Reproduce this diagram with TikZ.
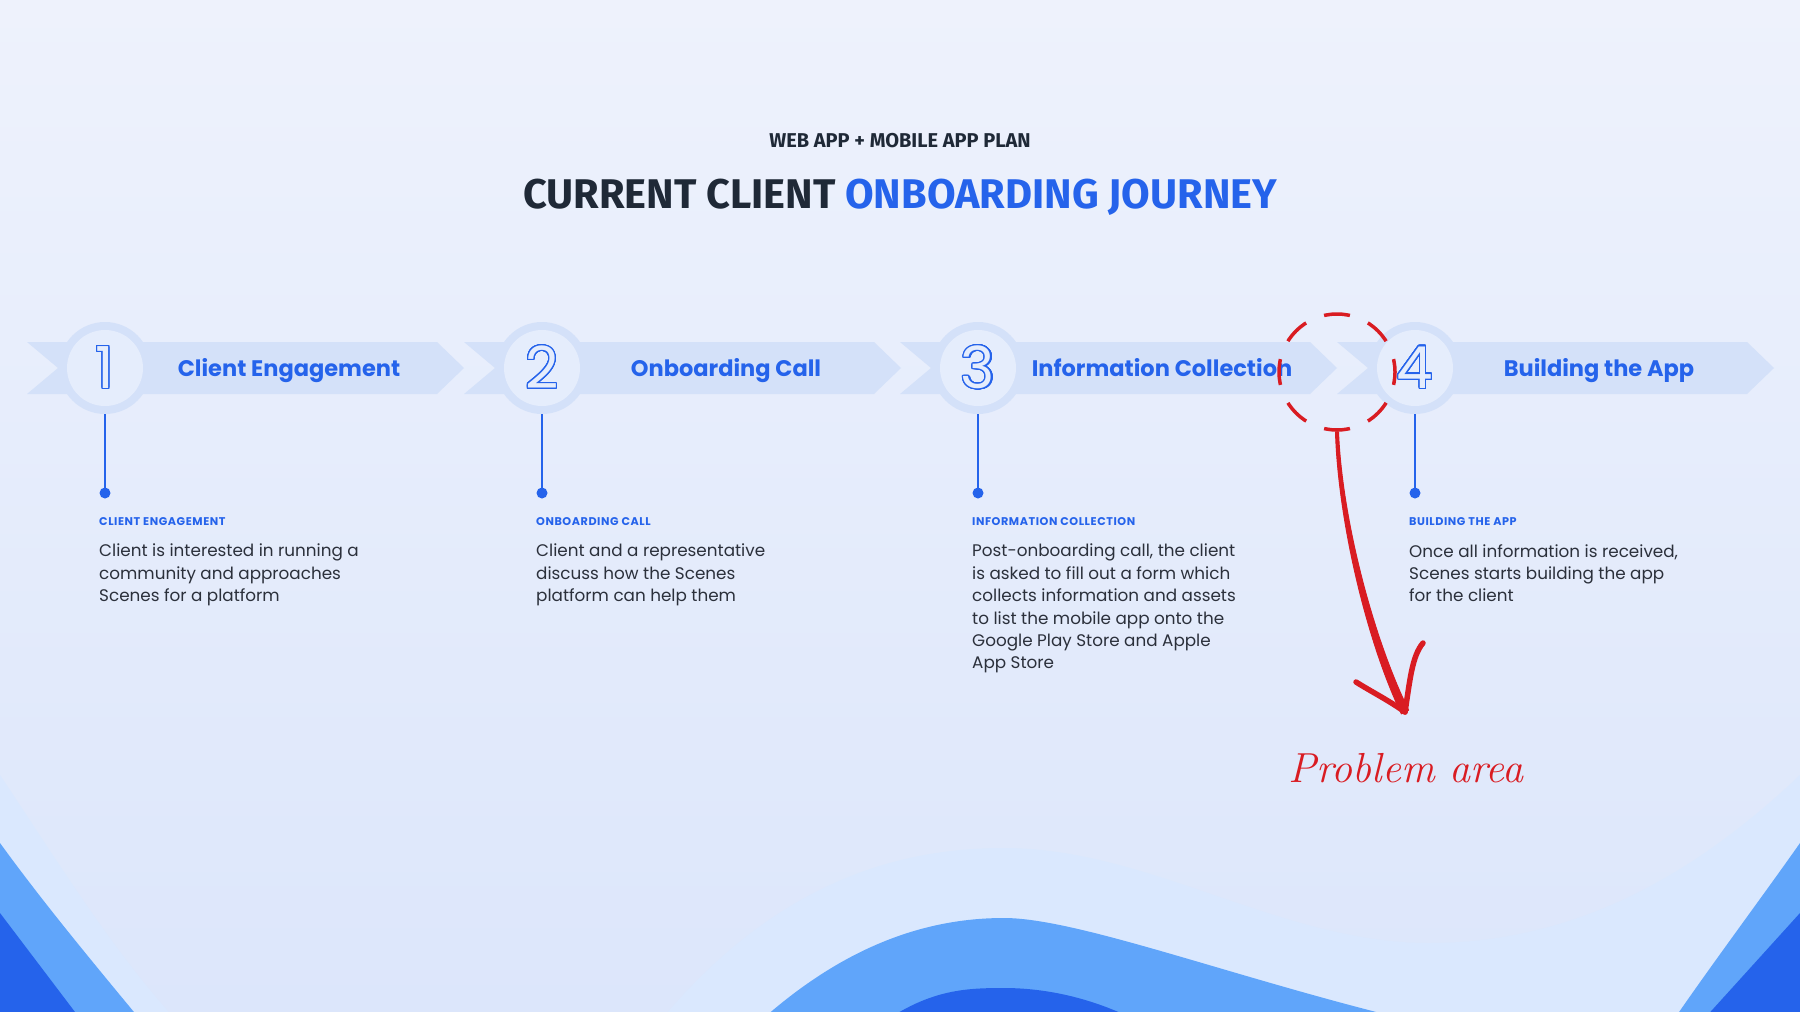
\documentclass[tikz,border=0pt]{standalone}
\usepackage{fontspec}
\setmainfont{Poppins}
\newfontfamily\headfont{Fira Sans}
\newfontfamily\handfont{Latin Modern Roman}
\usepackage{contour}
\usetikzlibrary{arrows.meta,positioning,calc}

\definecolor{bgtop}{HTML}{EEF2FC}
\definecolor{bgbot}{HTML}{DCE6FB}
\definecolor{bandfill}{HTML}{D4E1F9}
\definecolor{ringfill}{HTML}{E5EDFC}
\definecolor{accent}{HTML}{2563EB}
\definecolor{inkdark}{HTML}{1F2937}
\definecolor{bodyink}{HTML}{2B303B}
\definecolor{waveA}{HTML}{DAE8FE}
\definecolor{waveB}{HTML}{60A5FA}
\definecolor{waveC}{HTML}{2563EB}
\definecolor{markred}{HTML}{D91C22}

\contourlength{1.2pt}
\contournumber{32}

\begin{document}
\begin{tikzpicture}[x=1pt,y=-1pt,
  ring/.style={circle,fill=bandfill,minimum size=92pt,inner sep=0pt},
  disc/.style={circle,fill=ringfill,minimum size=76pt,inner sep=0pt},
  stem/.style={accent,line width=2.5pt},
  dot/.style={circle,fill=accent,minimum size=11pt,inner sep=0pt},
  steptitle/.style={font=\fontsize{22.5}{26}\selectfont\bfseries,text=accent,anchor=base},
  stephead/.style={font=\fontsize{11.2}{13}\selectfont\bfseries\addfontfeatures{LetterSpace=5},text=accent,inner sep=0pt,anchor=west},
  stepbody/.style={font=\fontsize{16.8}{22.4}\selectfont,text=bodyink,align=left,inner sep=0pt,anchor=north west}]
\useasboundingbox (0,0) rectangle (1800,1012);
\fill[top color=bgtop,bottom color=bgbot] (0,0) rectangle (1800,1012);
\begin{scope}
\clip (0,0) rectangle (1800,1012);
\fill[waveA] (0,775) .. controls (70,880) and (130,980) .. (215,1060) -- (630,1060) .. controls (760,880) and (900,848) .. (1004,848) .. controls (1150,848) and (1280,943) .. (1429,943) .. controls (1580,943) and (1700,870) .. (1800,775) -- (1800,1100) -- (0,1100) -- cycle;
\fill[waveB] (0,843) .. controls (45,905) and (95,965) .. (153,1035) -- (735,1045) .. controls (830,950) and (920,918) .. (1004,918) .. controls (1090,918) and (1290,1000) .. (1500,1040) -- (1660,1040) .. controls (1700,980) and (1760,900) .. (1800,843) -- (1800,1100) -- (0,1100) -- cycle;
\fill[waveC] (0,913) -- (75,1012) -- (88,1030) -- (860,1040) .. controls (920,990) and (960,988) .. (1004,988) .. controls (1050,988) and (1110,1000) .. (1170,1040) -- (1694,1030) -- (1800,913) -- (1800,1100) -- (0,1100) -- cycle;
\end{scope}

\node[font=\headfont\bfseries\fontsize{20}{24}\selectfont,text=inkdark] (kicker) at (900,141) {WEB APP + MOBILE APP PLAN};
\node[font=\headfont\bfseries\fontsize{41.5}{46}\selectfont,text=inkdark] (title) at (900,197) {CURRENT CLIENT \textcolor{accent}{ONBOARDING JOURNEY}};

\foreach \i/\x/\t/\h/\b in {
  1/105/Client Engagement/CLIENT ENGAGEMENT/{Client is interested in running a\\community and approaches\\Scenes for a platform},
  2/542/Onboarding Call/ONBOARDING CALL/{Client and a representative\\discuss how the Scenes\\platform can help them},
  3/978/Information Collection/INFORMATION COLLECTION/{Post-onboarding call, the client\\is asked to fill out a form which\\collects information and assets\\to list the mobile app onto the\\Google Play Store and Apple\\App Store},
  4/1415/Building the App/BUILDING THE APP/{Once all information is received,\\Scenes starts building the app\\for the client}} {
  \fill[bandfill] (\x-78,342) -- (\x+332,342) -- (\x+359,368) -- (\x+332,394) -- (\x-78,394) -- (\x-47,368) -- cycle;
  \node[ring] (r\i) at (\x,368) {};
  \node[disc] (c\i) at (r\i) {\fontsize{58}{58}\selectfont\contour{accent}{\textcolor{ringfill}{\i}}};
  \node[steptitle] (t\i) at (\x+184,376) {\t};
  \node[dot] (d\i) at (\x,493) {};
  \draw[stem] (r\i.south) -- (d\i.center);
  \node[stephead] (h\i) at (\x-6,522) {\h};
  \node[stepbody] (b\i) at (\x-6,544) {\b};
}

\node[circle,draw=markred,line width=3.5pt,dash pattern=on 26pt off 19.55pt,dash phase=13pt,minimum size=116pt,inner sep=0pt] (prob) at (1337,372) {};
\coordinate (tip) at (1405,712);
\filldraw[markred,line width=1pt,line join=round] ($(prob.south)+(-1.5,0)$) .. controls (1338,520) and (1366.5,641) .. ($(tip)+(-3.6,1.8)$) -- ($(tip)+(3.6,-1.8)$) .. controls (1373.5,639) and (1342,520) .. ($(prob.south)+(1.5,0)$) -- cycle;
\draw[markred,line width=5.5pt,line cap=round] (tip) .. controls (1388,700) and (1372,692) .. (1356,682);
\draw[markred,line width=5.5pt,line cap=round] (tip) .. controls (1410,680) and (1412,656) .. (1423,643);
\node[font=\handfont\itshape\fontsize{42}{46}\selectfont,text=markred] (ptext) at (1406,768) {Problem area};
\end{tikzpicture}
\end{document}
